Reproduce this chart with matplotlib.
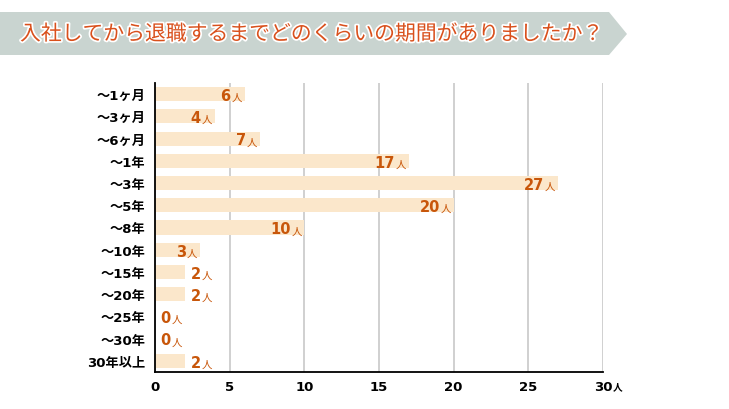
import numpy as np
import matplotlib
matplotlib.use('Agg')
import matplotlib.pyplot as plt
from matplotlib.patches import Polygon
import matplotlib.patheffects as pe

plt.rcParams['font.family'] = ['Noto Sans CJK JP', 'DejaVu Sans']
num_font = ['DejaVu Sans', 'Noto Sans CJK JP']

title = '入社してから退職するまでどのくらいの期間がありましたか？'
categories = ['～1ヶ月', '～3ヶ月', '～6ヶ月', '～1年', '～3年', '～5年', '～8年',
              '～10年', '～15年', '～20年', '～25年', '～30年', '30年以上']
counts = [6, 4, 7, 17, 27, 20, 10, 3, 2, 2, 0, 0, 2]
xticks = [0, 5, 10, 15, 20, 25, 30]

bar_color = '#fbe7cb'
label_color = '#c8560a'

fig = plt.figure(figsize=(7.29, 4.10), dpi=100)

# title banner (arrow shaped)
W, H = 729, 410
pts = [(0, 13), (609, 13), (627, 35), (609, 56), (0, 56)]
banner = Polygon([(x / W, 1 - y / H) for x, y in pts], closed=True,
                 transform=fig.transFigure, facecolor='#c9d4d0', edgecolor='none')
fig.patches.append(banner)
fig.text(20 / W, 1 - 35 / H, title, ha='left', va='center', fontsize=15,
         color='#d9501c',
         path_effects=[pe.withStroke(linewidth=2.5, foreground='white')])

ax = fig.add_axes([155 / W, 1 - 373 / H, (603 - 155) / W, (373 - 84) / H])
y = np.arange(len(categories))
ax.barh(y, counts, height=0.63, color=bar_color, zorder=2)

ax.set_xlim(0, 30)
ax.set_ylim(len(categories) - 0.5, -0.5)
ax.set_yticks(y)
ax.set_yticklabels(categories, fontsize=9.5, fontweight='bold', family=num_font)
ax.set_xticks(xticks)
ax.set_xticklabels([str(t) for t in xticks], fontsize=9.5, fontweight='bold',
                   family=num_font)
ax.tick_params(length=0, pad=6)
ax.tick_params(axis='y', pad=7)
ax.xaxis.grid(True, color='#c8c8c8', linewidth=1.2, zorder=0)
ax.set_axisbelow(True)
for s in ['top', 'right']:
    ax.spines[s].set_visible(False)
ax.spines['left'].set_linewidth(1.3)
ax.spines['bottom'].set_linewidth(1.3)

# small 人 after 30 on the x axis
ax.annotate('人', xy=(30, 0), xycoords=('data', 'axes fraction'),
            xytext=(7, -10), textcoords='offset points', ha='left', va='center',
            fontsize=7, fontweight='bold', color='black')

for yi, v in zip(y, counts):
    if v >= 3:
        # inside, right aligned at bar end
        ax.annotate('人', xy=(v, yi), xytext=(-2, -4.2), textcoords='offset points',
                    ha='right', va='baseline', fontsize=7.5, color=label_color, zorder=3)
        ax.annotate(str(v), xy=(v, yi), xytext=(-10, -4.2), textcoords='offset points',
                    ha='right', va='baseline', fontsize=10.5, fontweight='bold',
                    family=num_font, color=label_color, zorder=3)
    else:
        ax.annotate(str(v), xy=(v, yi), xytext=(4, -4.2), textcoords='offset points',
                    ha='left', va='baseline', fontsize=10.5, fontweight='bold',
                    family=num_font, color=label_color, zorder=3)
        ax.annotate('人', xy=(v, yi), xytext=(12, -4.2), textcoords='offset points',
                    ha='left', va='baseline', fontsize=7.5, color=label_color, zorder=3)

fig.savefig('out.png', dpi=100)
